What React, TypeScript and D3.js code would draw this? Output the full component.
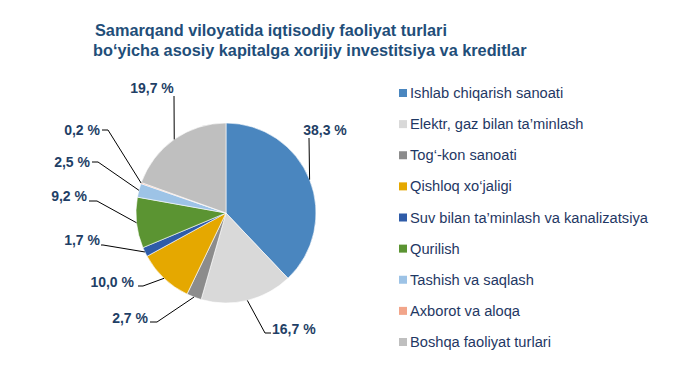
import React from 'react';
import * as d3 from 'd3';

// Sectors (order = clockwise from 12 o'clock)
const categories = [
  'Ishlab chiqarish sanoati',
  'Elektr, gaz bilan ta\u2019minlash',
  'Tog\u2018-kon sanoati',
  'Qishloq xo\u2018jaligi',
  'Suv bilan ta\u2019minlash va kanalizatsiya',
  'Qurilish',
  'Tashish va saqlash',
  'Axborot va aloqa',
  'Boshqa faoliyat turlari',
];
const shares = [38.3, 16.7, 2.7, 10.0, 1.7, 9.2, 2.5, 0.2, 19.7];
const colors = ['#4A86BF', '#D9D9D9', '#8C8C8C', '#E5A800', '#2F5CA8', '#5B9432', '#9DC3E6', '#F2A58A', '#BFBFBF'];
const titleLines = [
  'Samarqand viloyatida iqtisodiy faoliyat turlari',
  'bo\u2018yicha asosiy kapitalga xorijiy investitsiya va kreditlar',
];

const W = 682;
const H = 375;
const cx = 226;
const cy = 213;
const R = 90;

// label leader layout: elbow point, end of horizontal tail, text anchor
type Lbl = { ex: number; ey: number; hx: number; tx: number; ty: number; anchor: string };
const labelLayout: Lbl[] = [
  { ex: 309, ey: 138, hx: 309, tx: 325, ty: 135, anchor: 'middle' },
  { ex: 265, ey: 333, hx: 271, tx: 272, ty: 334, anchor: 'start' },
  { ex: 157, ey: 322, hx: 150, tx: 148, ty: 323, anchor: 'end' },
  { ex: 143, ey: 286, hx: 138, tx: 134, ty: 287, anchor: 'end' },
  { ex: 103, ey: 245, hx: 101, tx: 100, ty: 245, anchor: 'end' },
  { ex: 97, ey: 201, hx: 89, tx: 87, ty: 201, anchor: 'end' },
  { ex: 98, ey: 162, hx: 92, tx: 90, ty: 167, anchor: 'end' },
  { ex: 108, ey: 130, hx: 102, tx: 100, ty: 135, anchor: 'end' },
  { ex: 174, ey: 96, hx: 174, tx: 152, ty: 93, anchor: 'middle' },
];

const fmt = (v: number) => v.toFixed(1).replace('.', ',') + ' %';

const App: React.FC = () => {
  const pie = d3.pie<number>().sort(null).value(d => d);
  const arcs = pie(shares);
  const arc = d3.arc<d3.PieArcDatum<number>>().innerRadius(0).outerRadius(R);
  const edge = d3.arc<d3.PieArcDatum<number>>().innerRadius(R).outerRadius(R);

  const legendY = d3.scalePoint<string>().domain(categories).range([93, 342]);

  return (
    <svg width={W} height={H} style={{ position: 'absolute', left: 0, top: 0, background: '#fff' }}
      fontFamily="Arial, 'Liberation Sans', sans-serif">
      {titleLines.map((t, i) => (
        <text key={i} x={i === 0 ? 95 : 93} y={36 + i * 20} fontSize={16.3} fontWeight="bold" fill="#1F4E79">{t}</text>
      ))}
      <g transform={`translate(${cx},${cy})`}>
        {arcs.map((a, i) => (
          <path key={i} d={arc(a) || ''} fill={colors[i]} stroke="#fff" strokeWidth={0.6} />
        ))}
      </g>
      {arcs.map((a, i) => {
        const [px, py] = edge.centroid(a);
        const l = labelLayout[i];
        return (
          <g key={i}>
            <polyline points={`${cx + px},${cy + py} ${l.ex},${l.ey} ${l.hx},${l.ey}`} fill="none" stroke="#000" strokeWidth={1} />
            <text x={l.tx} y={l.ty} textAnchor={l.anchor} fontSize={14} fontWeight="bold" fill="#1F3F66">{fmt(shares[i])}</text>
          </g>
        );
      })}
      {categories.map((c, i) => {
        const y = legendY(c) || 0;
        return (
          <g key={c}>
            <rect x={399} y={y - 4} width={8} height={8} fill={colors[i]} />
            <text x={410} y={y + 5} fontSize={14.67} fill="#1F3864">{c}</text>
          </g>
        );
      })}
    </svg>
  );
};

export default App;
